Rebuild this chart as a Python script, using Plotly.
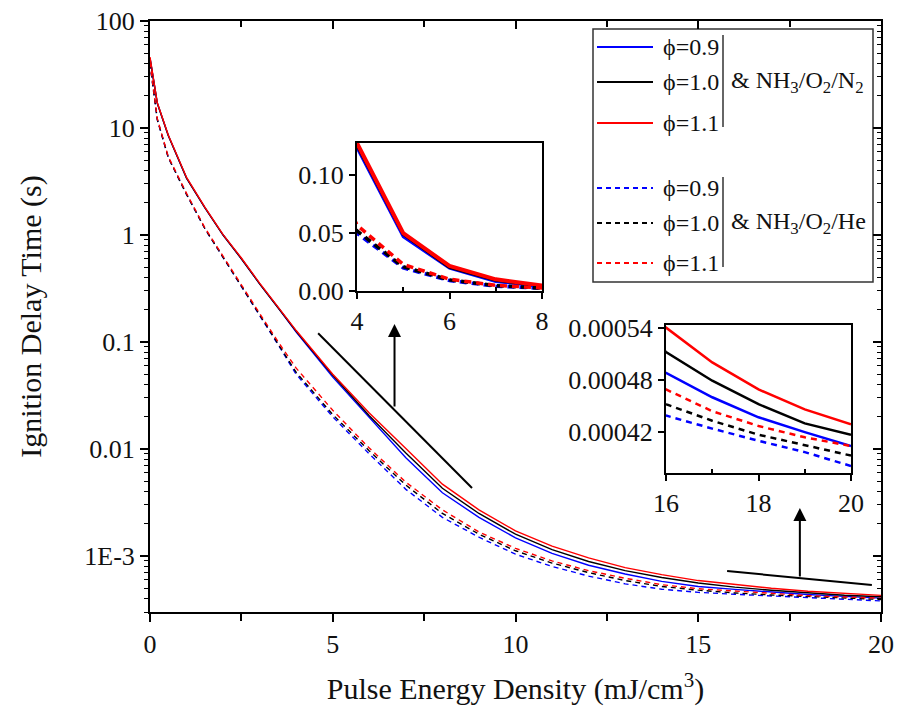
import numpy as np
import plotly.graph_objects as go

# ---------------- data ----------------
energy = [0, 0.2, 0.5, 1, 1.5, 2, 2.5, 3, 3.5, 4, 5, 6, 7, 8, 9, 10, 11, 12, 13, 14, 15, 16, 17, 18, 19, 20]

n2_phi09 = [45, 17, 8.5, 3.4, 1.8, 1.0, 0.6, 0.35, 0.21, 0.124, 0.047, 0.0197, 0.0083, 0.0039, 0.0023, 0.00148,
            0.00106, 0.00082, 0.00068, 0.00058, 0.00052, 0.000488, 0.00046, 0.000437, 0.00042, 0.000404]
n2_phi10 = [45, 17, 8.5, 3.4, 1.8, 1.0, 0.6, 0.35, 0.21, 0.126, 0.049, 0.0205, 0.0092, 0.0043, 0.0025, 0.0016,
            0.00115, 0.00089, 0.00073, 0.00063, 0.00056, 0.000512, 0.000479, 0.000452, 0.00043, 0.000417]
n2_phi11 = [46, 17.2, 8.6, 3.45, 1.82, 1.01, 0.61, 0.355, 0.213, 0.128, 0.050, 0.0217, 0.0101, 0.0047, 0.0027,
            0.00172, 0.00124, 0.00096, 0.00078, 0.00067, 0.00059, 0.00054, 0.0005, 0.000469, 0.000446, 0.000429]

he_phi09 = [40, 12, 5.3, 2.4, 1.15, 0.62, 0.33, 0.18, 0.095, 0.050, 0.020, 0.0090, 0.0042, 0.0023, 0.0015,
            0.00104, 0.0008, 0.00065, 0.00055, 0.00049, 0.000458, 0.000439, 0.000424, 0.00041, 0.000397, 0.000381]
he_phi10 = [40, 12, 5.3, 2.4, 1.15, 0.62, 0.33, 0.18, 0.097, 0.052, 0.021, 0.0096, 0.0046, 0.0025, 0.0016,
            0.00112, 0.00086, 0.0007, 0.00059, 0.00052, 0.00048, 0.000452, 0.000433, 0.000417, 0.000405, 0.000393]
he_phi11 = [41, 12.2, 5.4, 2.45, 1.17, 0.63, 0.335, 0.185, 0.101, 0.057, 0.023, 0.0102, 0.0049, 0.0027, 0.00168,
            0.00118, 0.0009, 0.00073, 0.00062, 0.00054, 0.000495, 0.000469, 0.000444, 0.000427, 0.000414, 0.000404]

phi_labels = ["ϕ=0.9", "ϕ=1.0", "ϕ=1.1"]
colors = ["#0000FF", "#000000", "#FF0000"]

y_major = [1e-3, 1e-2, 1e-1, 1, 10, 100]
y_major_text = ["1E-3", "0.01", "0.1", "1", "10", "100"]
y_lo, y_hi = 3e-4, 100

inset1_yticks = [0.0, 0.05, 0.10]
inset1_ytext = ["0.00", "0.05", "0.10"]
inset2_yticks = [0.00042, 0.00048, 0.00054]
inset2_ytext = ["0.00042", "0.00048", "0.00054"]

# ---------------- figure ----------------
W, H = 898, 714
ML, MR, MT, MB = 150, 17, 21, 102
PW, PH = W - ML - MR, H - MT - MB

def px(xp):
    return (xp - ML) / PW

def py(yp):
    return (H - MB - yp) / PH

FONT = "Liberation Serif, Times New Roman, Times, serif"
fig = go.Figure()

solid = [n2_phi09, n2_phi10, n2_phi11]
dashed = [he_phi09, he_phi10, he_phi11]

# main plot
for vals, c in zip(solid, colors):
    fig.add_trace(go.Scatter(x=energy, y=vals, mode="lines", line=dict(color=c, width=1.4),
                             xaxis="x", yaxis="y", showlegend=False))
for vals, c in zip(dashed, colors):
    fig.add_trace(go.Scatter(x=energy, y=vals, mode="lines", line=dict(color=c, width=1.4, dash="5px,4px"),
                             xaxis="x", yaxis="y", showlegend=False))

# inset 1
for vals, c, w in zip(solid, colors, [3, 3, 4]):
    fig.add_trace(go.Scatter(x=energy, y=vals, mode="lines", line=dict(color=c, width=w),
                             xaxis="x2", yaxis="y2", showlegend=False))
for vals, c in zip(dashed, colors):
    fig.add_trace(go.Scatter(x=energy, y=vals, mode="lines", line=dict(color=c, width=3.5, dash="7px,5px"),
                             xaxis="x2", yaxis="y2", showlegend=False))
# inset 2
for vals, c in zip(solid, colors):
    fig.add_trace(go.Scatter(x=energy, y=vals, mode="lines", line=dict(color=c, width=2.5),
                             xaxis="x3", yaxis="y3", showlegend=False))
for vals, c in zip(dashed, colors):
    fig.add_trace(go.Scatter(x=energy, y=vals, mode="lines", line=dict(color=c, width=2.5, dash="6px,5px"),
                             xaxis="x3", yaxis="y3", showlegend=False))

# dummy trace for mirror-tick axes
fig.add_trace(go.Scatter(x=[None], y=[None], xaxis="x4", yaxis="y4", showlegend=False, hoverinfo="skip"))

y_minor = [k * 10.0 ** n for n in range(-4, 2) for k in range(2, 10) if y_lo <= k * 10.0 ** n <= y_hi]
yr = [np.log10(y_lo), np.log10(y_hi)]

tickfont = dict(family=FONT, size=26, color="#111")
axis_common = dict(showline=True, linecolor="black", linewidth=2, showgrid=False, zeroline=False,
                   tickcolor="black", tickfont=tickfont, automargin=False)

fig.update_layout(
    width=W, height=H, margin=dict(l=ML, r=MR, t=MT, b=MB, autoexpand=False),
    paper_bgcolor="white", plot_bgcolor="white",
    font=dict(family=FONT, color="#111"),
    xaxis=dict(**axis_common, domain=[0, 1], range=[0, 20], tickvals=[0, 5, 10, 15, 20],
               ticks="outside", ticklen=8, tickwidth=1.5, mirror=True,
               minor=dict(tickvals=[2.5, 7.5, 12.5, 17.5], ticks="outside", ticklen=7, tickwidth=1.5, tickcolor="black"),
               title=dict(text="Pulse Energy Density (mJ/cm<sup>3</sup>)", font=dict(family=FONT, size=30, color="#111"),
                          standoff=20)),
    yaxis=dict(**axis_common, domain=[0, 1], type="log", range=yr, tickvals=y_major, ticktext=y_major_text,
               ticks="outside", ticklen=8, tickwidth=1.5, mirror=True,
               minor=dict(tickvals=y_minor, ticks="outside", ticklen=4, tickwidth=1.2, tickcolor="black"),
               title=dict(text="Ignition Delay Time (s)", font=dict(family=FONT, size=30, color="#111"),
                          standoff=34)),
    xaxis4=dict(overlaying="x", side="top", range=[0, 20], anchor="y4", showline=False, showgrid=False,
                zeroline=False, tickvals=[5, 10, 15], ticks="inside", ticklen=8, tickwidth=1.5, tickcolor="black",
                showticklabels=False, automargin=False,
                minor=dict(tickvals=[2.5, 7.5, 12.5, 17.5], ticks="inside", ticklen=6, tickwidth=1.5, tickcolor="black")),
    yaxis4=dict(overlaying="y", side="right", type="log", range=yr, anchor="x4", showline=False, showgrid=False,
                zeroline=False, tickvals=y_major, ticks="inside", ticklen=8, tickwidth=1.5, tickcolor="black",
                showticklabels=False, automargin=False,
                minor=dict(tickvals=y_minor, ticks="inside", ticklen=4, tickwidth=1.2, tickcolor="black")),
    xaxis2=dict(**axis_common, domain=[px(357), px(542)], anchor="y2", range=[4, 8], tickvals=[4, 6, 8],
                ticks="outside", ticklen=6, tickwidth=1.5, mirror=True,
                minor=dict(tickvals=[5, 7], ticks="inside", ticklen=4, tickwidth=1.5, tickcolor="black")),
    yaxis2=dict(**axis_common, domain=[py(291), py(143)], anchor="x2", range=[0, 0.128],
                tickvals=inset1_yticks, ticktext=inset1_ytext, ticks="outside", ticklen=6, tickwidth=1.5, mirror=True),
    xaxis3=dict(**axis_common, domain=[px(666), px(851)], anchor="y3", range=[16, 20], tickvals=[16, 18, 20],
                ticks="outside", ticklen=6, tickwidth=1.5, mirror=True,
                minor=dict(tickvals=[17, 19], ticks="inside", ticklen=4, tickwidth=1.5, tickcolor="black")),
    yaxis3=dict(**axis_common, domain=[py(473), py(325)], anchor="x3", range=[0.000373, 0.000543],
                tickvals=inset2_yticks, ticktext=inset2_ytext, ticks="outside", ticklen=6, tickwidth=1.5, mirror=True),
)

shapes = []
annotations = []

# pointer lines and arrows (data coordinates of main axes)
ptr1 = dict(x0=4.60, y0=0.121, x1=8.81, y1=0.00433)
ptr2 = dict(x0=15.79, y0=7.24e-4, x1=19.75, y1=5.36e-4)
for p in (ptr1, ptr2):
    shapes.append(dict(type="line", xref="x", yref="y", x0=p["x0"], y0=p["y0"], x1=p["x1"], y1=p["y1"],
                       line=dict(color="black", width=2)))

arrows = [dict(x=6.69, y_tail=10 ** -1.617, y_tip=10 ** -0.832),
          dict(x=17.78, y_tail=10 ** -3.206, y_tip=10 ** -2.551)]
for a in arrows:
    annotations.append(dict(xref="x", yref="y", axref="x", ayref="y",
                            x=a["x"], y=np.log10(a["y_tip"]), ax=a["x"], ay=np.log10(a["y_tail"]),
                            showarrow=True, arrowhead=2, arrowsize=1.3, arrowwidth=2, arrowcolor="black", text=""))

# custom legend
shapes.append(dict(type="rect", xref="paper", yref="paper", x0=px(593), x1=px(873), y0=py(282), y1=py(29),
                   line=dict(color="#333", width=1.5), fillcolor="white", layer="below"))
leg_rows_solid = [47, 82, 123]
leg_rows_dash = [188, 223, 263]
legfont = dict(family=FONT, size=24, color="#111")
for rows, dash in ((leg_rows_solid, "solid"), (leg_rows_dash, "5px,4px")):
    for yy, c, lab in zip(rows, colors, phi_labels):
        shapes.append(dict(type="line", xref="paper", yref="paper", x0=px(597), x1=px(653), y0=py(yy), y1=py(yy),
                           line=dict(color=c, width=2, dash=dash)))
        annotations.append(dict(xref="paper", yref="paper", x=px(661), y=py(yy), xanchor="left", yanchor="middle",
                                text=lab, showarrow=False, font=legfont))
for y0, y1 in ((35, 127), (177, 267)):
    shapes.append(dict(type="line", xref="paper", yref="paper", x0=px(723), x1=px(723), y0=py(y0), y1=py(y1),
                       line=dict(color="#333", width=1.5)))
annotations.append(dict(xref="paper", yref="paper", x=px(729), y=py(82), xanchor="left", yanchor="middle",
                        text="& NH<sub>3</sub>/O<sub>2</sub>/N<sub>2</sub>", showarrow=False, font=legfont))
annotations.append(dict(xref="paper", yref="paper", x=px(729), y=py(223), xanchor="left", yanchor="middle",
                        text="& NH<sub>3</sub>/O<sub>2</sub>/He", showarrow=False, font=legfont))

fig.update_layout(shapes=shapes, annotations=annotations)
fig.write_html("out.html", config={"displayModeBar": False},
               post_script="document.body.style.margin='0';document.body.style.padding='0';")
